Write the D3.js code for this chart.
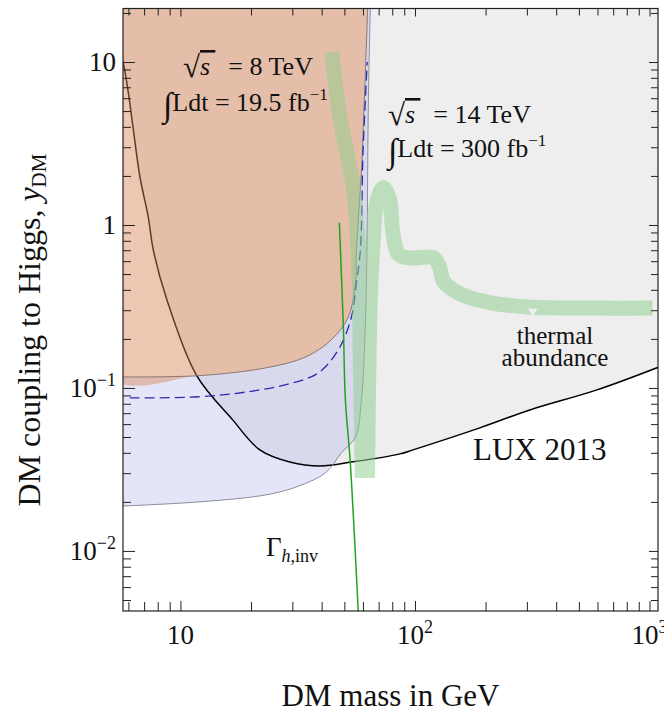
<!DOCTYPE html>
<html>
<head>
<meta charset="utf-8">
<script src="https://cdn.jsdelivr.net/npm/d3@7"></script>
<style>
  body { margin: 0; background: #fff; }
  text { font-family: "Liberation Serif", "Times New Roman", serif; fill: #111; }
</style>
</head>
<body>
<div id="chart" style="width:664px;height:715px"></div>
<script>

// values, [DM mass in GeV, coupling y_DM]
const luxCurve = [[5.5, 11.5], [5.70, 9.86], [5.99, 6.54], [6.30, 3.83], [6.72, 1.97], [7.29, 1.12],
    [7.66, 0.703], [8.76, 0.347], [11.75, 0.1185], [16.7, 0.0637], [21.8, 0.0417], [29.3, 0.0351],
    [39.4, 0.0332], [54.5, 0.0352], [86.3, 0.0394], [98.1, 0.0417], [189, 0.0569], [309, 0.0733],
    [597, 0.0973], [1120, 0.136]];

const lhc8Edge = [[5, 0.117], [12, 0.119], [23.2, 0.133], [34.2, 0.155], [44.1, 0.198], [52, 0.273],
    [55.7, 0.44], [56.3, 0.70], [59.4, 2.4], [60.6, 5.1], [62.4, 15.7], [63, 24]];

const lhc14Edge = [[5, 0.0187], [12, 0.020], [23.2, 0.0221], [31.9, 0.025], [41.6, 0.0302], [48.6, 0.040],
    [55.8, 0.0501], [59.1, 0.0841], [61.3, 0.218], [62.4, 0.70], [63.3, 5.85], [64.6, 24]];

const lhc14Dashed = [[6.08, 0.0869], [12.0, 0.0883], [19.6, 0.0950], [29.8, 0.107], [38.8, 0.124],
    [47.2, 0.172], [53.6, 0.273], [56.3, 0.442], [58.5, 0.70], [60.1, 2.89], [62.6, 10]];

const gammaInv = [[47.6, 1.03], [49.5, 0.237], [50.5, 0.0843], [53.0, 0.0347], [57.3, 0.00428], [58, 0.003]];

const thermalLeft = [[44.1, 11.5], [48.1, 4.41], [52.0, 2.51], [54.6, 1.71], [57.3, 0.673],
    [58.4, 0.171], [59.6, 0.0281]];
const thermalRight = [[62.7, 0.0281], [63.3, 0.0843], [64.5, 0.347], [66.4, 0.809], [69.0, 1.42],
    [73.2, 1.69], [77.6, 1.47], [80.7, 0.868], [85.6, 0.655], [95.2, 0.628], [120.4, 0.628],
    [127.6, 0.545], [132.7, 0.447], [159.7, 0.372], [214, 0.332], [301, 0.314], [596, 0.309], [1030, 0.309]];
const thermalNotch = [[318, 0.296]];

const xMajor = [10, 100, 1000];
const xTickLabels = [["10", ""], ["10", "2"], ["10", "3"]];
const yMajor = [0.01, 0.1, 1, 10];
const yTickLabels = [["10", "\u22122"], ["10", "\u22121"], ["1", ""], ["10", ""]];


class HiggsPortalPlot {

    constructor(parentElement){
        this.parentElement = parentElement;
        this.initVis();
    }

    initVis(){
        let vis = this;

        vis.left = 123; vis.right = 658; vis.top = 8.5; vis.bottom = 611;

        vis.svg = d3.select("#" + vis.parentElement).append("svg")
            .attr("width", 664)
            .attr("height", 715);

        vis.x = d3.scaleLog().domain([5.69, 1087]).range([vis.left, vis.right]);
        vis.y = d3.scaleLog().domain([0.00428, 21.3]).range([vis.bottom, vis.top]);

        vis.svg.append("clipPath").attr("id", "plotclip")
            .append("rect")
            .attr("x", vis.left).attr("y", vis.top)
            .attr("width", vis.right - vis.left).attr("height", vis.bottom - vis.top);

        vis.plot = vis.svg.append("g").attr("clip-path", "url(#plotclip)");

        let smooth = d3.line()
            .x(d => vis.x(d[0]))
            .y(d => vis.y(d[1]))
            .curve(d3.curveCatmullRom.alpha(0.5));

        let xLo = 4, xHi = 1500, yHi = 40;

        // LUX 2013 excluded region
        vis.plot.append("path")
            .attr("d", smooth(luxCurve) + "L" + vis.x(xHi) + "," + vis.y(0.136) +
                "L" + vis.x(xHi) + "," + vis.y(yHi) + "L" + vis.x(xLo) + "," + vis.y(yHi) + "Z")
            .attr("fill", "#eeeeee");

        // 14 TeV projection, outside the 8 TeV region
        vis.plot.append("path")
            .attr("d", smooth(lhc14Edge) + "L" + smooth(lhc8Edge.slice().reverse()).slice(1) + "Z")
            .attr("fill", "rgb(170,170,240)")
            .attr("fill-opacity", 0.3);

        vis.plot.append("path")
            .attr("d", smooth(luxCurve))
            .attr("fill", "none")
            .attr("stroke", "#000")
            .attr("stroke-width", 1.5);

        // 8 TeV excluded region
        vis.plot.append("path")
            .attr("d", smooth([[xLo, yHi]].concat(lhc8Edge)) + "Z")
            .attr("fill", "rgb(215,130,85)")
            .attr("fill-opacity", 0.45);

        vis.plot.append("path")
            .attr("d", smooth(lhc8Edge))
            .attr("fill", "none")
            .attr("stroke", "#8a7672")
            .attr("stroke-width", 1);

        vis.plot.append("path")
            .attr("d", smooth(lhc14Edge))
            .attr("fill", "none")
            .attr("stroke", "#8c8c9c")
            .attr("stroke-width", 1);

        vis.plot.append("path")
            .attr("d", smooth(lhc14Dashed))
            .attr("fill", "none")
            .attr("stroke", "#2b2bb0")
            .attr("stroke-width", 1.3)
            .attr("stroke-dasharray", "10,5");

        // thermal abundance band
        let band = vis.plot.append("g").attr("opacity", 0.5);
        [thermalLeft, thermalRight].forEach(branch => {
            band.append("path")
                .attr("d", smooth(branch))
                .attr("fill", "none")
                .attr("stroke", "rgb(140,206,140)")
                .attr("stroke-width", 15)
                .attr("stroke-linejoin", "round");
        });

        vis.plot.selectAll(".notch").data(thermalNotch).enter().append("path")
            .attr("class", "notch")
            .attr("d", d3.symbol(d3.symbolTriangle, 40))
            .attr("transform", d => `translate(${vis.x(d[0])},${vis.y(d[1])}) rotate(180)`)
            .attr("fill", "#eeeeee");

        vis.plot.append("path")
            .attr("d", smooth(gammaInv))
            .attr("fill", "none")
            .attr("stroke", "#1ea51e")
            .attr("stroke-width", 1.5);

        vis.drawAxes();
        vis.drawText();
    }

    drawAxes(){
        let vis = this;
        let xTicks = vis.x.ticks();
        let yTicks = vis.y.ticks();

        let tickAxis = (axis, vals, size, tr) => {
            let g = vis.svg.append("g")
                .attr("transform", tr)
                .call(axis.tickValues(vals).tickSize(size).tickFormat(""));
            g.select(".domain").remove();
            g.selectAll("line").attr("stroke", "#222").attr("stroke-width", 1);
        };

        let xMinor = xTicks.filter(v => !xMajor.includes(v));
        let yMinor = yTicks.filter(v => !yMajor.some(m => Math.abs(m - v) / m < 1e-6));

        tickAxis(d3.axisBottom(vis.x), xMinor, -9, `translate(0,${vis.bottom})`);
        tickAxis(d3.axisBottom(vis.x), xMajor, -10, `translate(0,${vis.bottom})`);
        tickAxis(d3.axisTop(vis.x), xMinor, -7, `translate(0,${vis.top})`);
        tickAxis(d3.axisTop(vis.x), xMajor, -8, `translate(0,${vis.top})`);
        tickAxis(d3.axisLeft(vis.y), yMinor, -8, `translate(${vis.left},0)`);
        tickAxis(d3.axisLeft(vis.y), yMajor, -12, `translate(${vis.left},0)`);
        tickAxis(d3.axisRight(vis.y), yMinor, -7, `translate(${vis.right},0)`);
        tickAxis(d3.axisRight(vis.y), yMajor, -9, `translate(${vis.right},0)`);

        vis.svg.append("rect")
            .attr("x", vis.left).attr("y", vis.top)
            .attr("width", vis.right - vis.left).attr("height", vis.bottom - vis.top)
            .attr("fill", "none")
            .attr("stroke", "#222")
            .attr("stroke-width", 1.2);

        // tick labels with superscripts
        xMajor.forEach((v, i) => {
            let t = vis.svg.append("text")
                .attr("x", vis.x(v))
                .attr("y", 644)
                .attr("text-anchor", "middle")
                .style("font-size", "27px");
            t.append("tspan").text(xTickLabels[i][0]);
            if (xTickLabels[i][1] !== "") {
                t.append("tspan").attr("dy", -11).style("font-size", "18px").text(xTickLabels[i][1]);
            }
        });

        yMajor.forEach((v, i) => {
            let t = vis.svg.append("text")
                .attr("x", 116)
                .attr("y", vis.y(v) + 9)
                .attr("text-anchor", "end")
                .style("font-size", "27px");
            t.append("tspan").text(yTickLabels[i][0]);
            if (yTickLabels[i][1] !== "") {
                t.append("tspan").attr("dy", -11).style("font-size", "18px").text(yTickLabels[i][1]);
            }
        });

        vis.svg.append("text")
            .attr("x", (vis.left + vis.right) / 2).attr("y", 706)
            .attr("text-anchor", "middle")
            .style("font-size", "31px")
            .text("DM mass in GeV");

        let yt = vis.svg.append("text")
            .attr("transform", "translate(40,330) rotate(-90)")
            .attr("text-anchor", "middle")
            .style("font-size", "32px");
        yt.append("tspan").text("DM coupling to Higgs, ");
        yt.append("tspan").style("font-style", "italic").text("y");
        yt.append("tspan").attr("dy", 6).style("font-size", "21px").text("DM");
    }

    drawText(){
        let vis = this;

        let sqrtLine = (x, y, rest) => {
            let t = vis.svg.append("text").attr("x", x).attr("y", y).style("font-size", "26px");
            t.append("tspan").attr("dy", 2).style("font-size", "31px").text("\u221A");
            t.append("tspan").attr("dy", -2).style("font-style", "italic").style("text-decoration", "overline").text("s\u2009");
            t.append("tspan").text("\u2002" + rest);
        };
        let lumiLine = (x, y, rest) => {
            let t = vis.svg.append("text").attr("x", x).attr("y", y).style("font-size", "26px");
            t.append("tspan").attr("dy", 5).style("font-size", "34px").text("\u222B");
            t.append("tspan").attr("dy", -5).text("Ldt = " + rest + " fb");
            t.append("tspan").attr("dy", -11).style("font-size", "17px").text("\u22121");
        };

        sqrtLine(183, 75, "= 8 TeV");
        lumiLine(163, 111, "19.5");
        sqrtLine(388, 123, "= 14 TeV");
        lumiLine(388, 157, "300");

        vis.svg.append("text").attr("x", 555).attr("y", 344).attr("text-anchor", "middle")
            .style("font-size", "25px").text("thermal");
        vis.svg.append("text").attr("x", 555).attr("y", 366).attr("text-anchor", "middle")
            .style("font-size", "25px").text("abundance");

        vis.svg.append("text").attr("x", 473).attr("y", 460)
            .style("font-size", "31px").text("LUX 2013");

        let g = vis.svg.append("text").attr("x", 266).attr("y", 556).style("font-size", "27px");
        g.append("tspan").text("\u0393");
        g.append("tspan").attr("dy", 6).style("font-size", "18px").style("font-style", "italic").text("h");
        g.append("tspan").style("font-size", "18px").text(",inv");
    }
}

new HiggsPortalPlot("chart");
</script>
</body>
</html>
